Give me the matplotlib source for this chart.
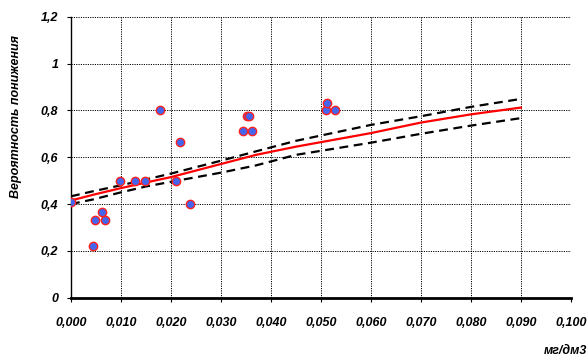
import numpy as np
import matplotlib.pyplot as plt
from matplotlib.ticker import FixedLocator

plt.rcParams['font.family'] = ['Liberation Sans', 'DejaVu Sans']

# observed points
pts_x = [0.0, 0.0045, 0.0049, 0.0063, 0.0069, 0.0099, 0.0129, 0.0149, 0.0179,
         0.0210, 0.0219, 0.0238, 0.0345, 0.0353, 0.0357, 0.0363, 0.0510, 0.0513, 0.0529]
pts_y = [0.41, 0.22, 0.33, 0.367, 0.33, 0.5, 0.5, 0.5, 0.8,
         0.5, 0.666, 0.4, 0.714, 0.775, 0.775, 0.714, 0.8, 0.83, 0.8]

# fitted curve and confidence band
fit_x = [0.0, 0.0045, 0.010, 0.015, 0.020, 0.030, 0.037, 0.045, 0.060, 0.070, 0.080, 0.090]
fit_y = [0.415, 0.44, 0.468, 0.492, 0.515, 0.571, 0.610, 0.645, 0.703, 0.748, 0.783, 0.812]
upper_y = [0.433, 0.455, 0.48, 0.505, 0.53, 0.585, 0.625, 0.67, 0.738, 0.775, 0.815, 0.849]
lower_y = [0.40, 0.42, 0.45, 0.475, 0.495, 0.534, 0.565, 0.61, 0.662, 0.70, 0.735, 0.767]

xticks = np.arange(0, 0.1001, 0.01)
xlabels = ['0,000', '0,010', '0,020', '0,030', '0,040', '0,050',
           '0,060', '0,070', '0,080', '0,090', '0,100']
yticks = [0, 0.2, 0.4, 0.6, 0.8, 1.0, 1.2]
ylabels = ['0', '0,2', '0,4', '0,6', '0,8', '1', '1,2']

fig = plt.figure(figsize=(5.88, 3.56), dpi=100)
ax = fig.add_axes([0.1207, 0.1638, 0.8503, 0.7892])

ax.plot(fit_x, upper_y, color='black', ls=(0, (4, 2.5)), lw=1.6, zorder=3)
ax.plot(fit_x, lower_y, color='black', ls=(0, (4, 2.5)), lw=1.6, zorder=3)
ax.plot(fit_x, fit_y, color='#ff0000', lw=1.6, zorder=4)
ax.plot(pts_x, pts_y, ls='none', marker='o', ms=6, mfc='#4466ee',
        mec='#ff2020', mew=1.0, zorder=5)

ax.set_xlim(0, 0.1)
ax.set_ylim(0, 1.2)
ax.xaxis.set_major_locator(FixedLocator(xticks))
ax.yaxis.set_major_locator(FixedLocator(yticks))
ax.set_xticklabels(xlabels, fontsize=9, fontweight='bold', fontstyle='italic')
ax.set_yticklabels(ylabels, fontsize=9, fontweight='bold', fontstyle='italic')
ax.tick_params(axis='x', length=3, width=0.8, pad=11)
ax.tick_params(axis='y', length=3, width=0.8, pad=6)

ax.grid(True, color='black', ls=(0, (1.2, 1.2)), lw=0.7)
ax.spines['top'].set_visible(False)
ax.spines['right'].set_visible(False)
ax.spines['left'].set_linewidth(1.0)
ax.spines['bottom'].set_linewidth(2.0)
ax.set_axisbelow(True)

fig.text(0.028, 0.672, 'Вероятность понижения', rotation=90, ha='center', va='center',
         fontsize=9, fontweight='bold', fontstyle='italic')
fig.text(0.998, 0.015, 'мг/дм3', ha='right', va='center',
         fontsize=9, fontweight='bold', fontstyle='italic')

fig.savefig('out.png', dpi=100)
